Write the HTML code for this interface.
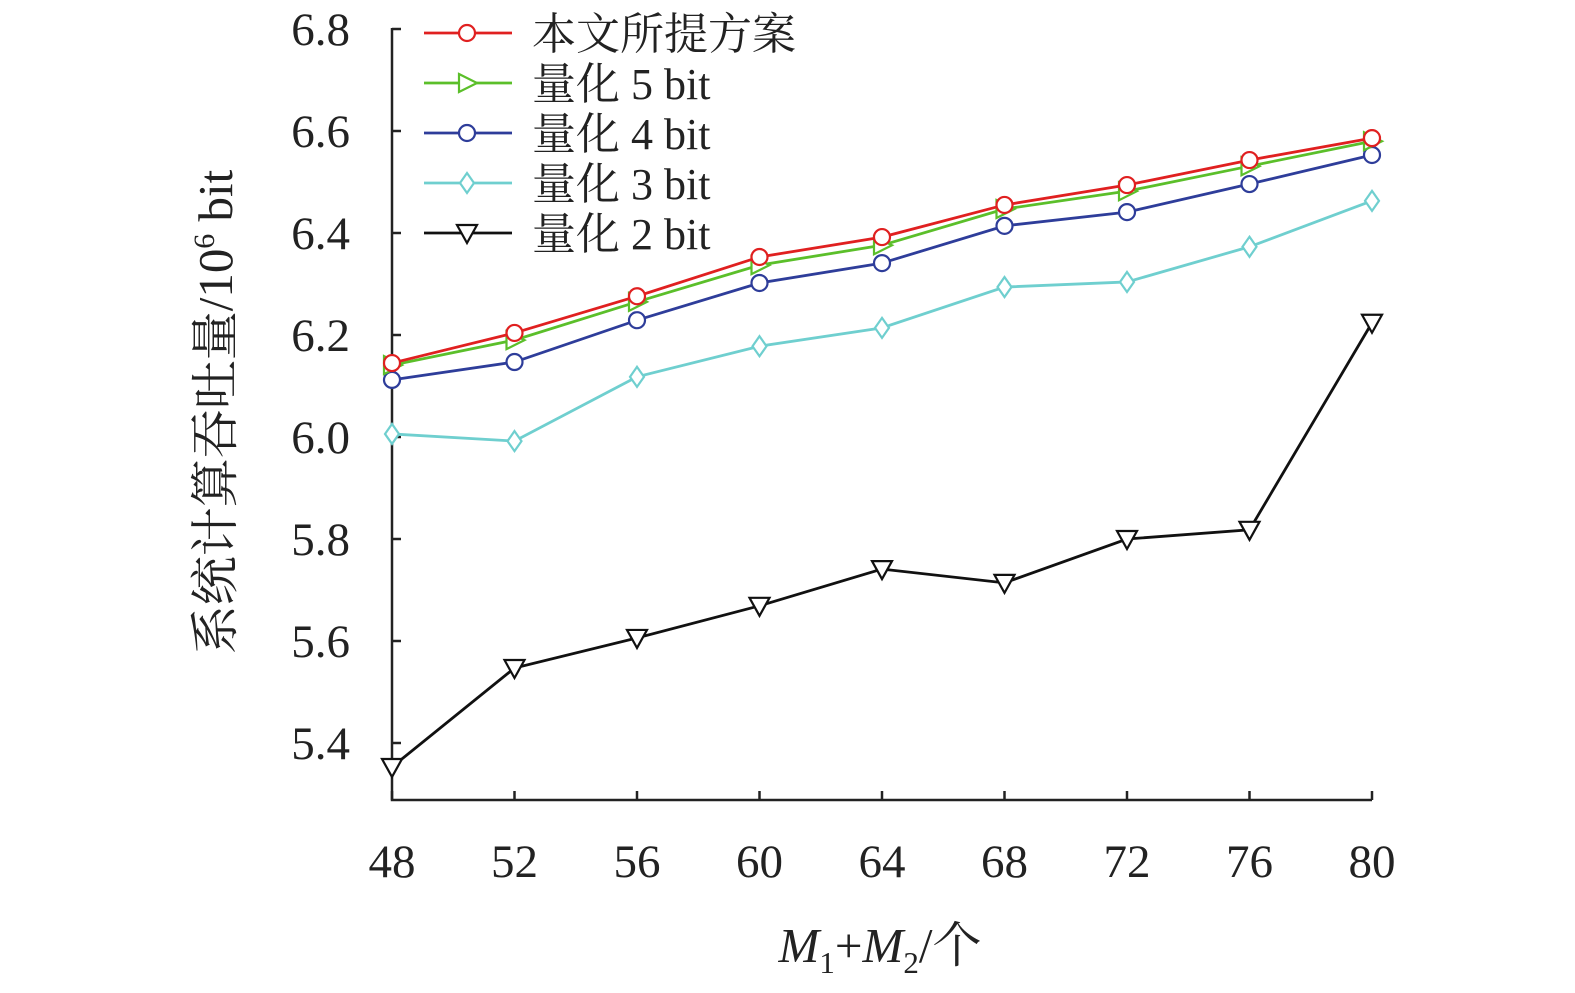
<!DOCTYPE html>
<html><head><meta charset="utf-8"><style>
html,body{margin:0;padding:0;background:#fff;overflow:hidden;width:1575px;height:993px;}
svg{display:block;font-family:"Liberation Serif","Noto Serif CJK SC",serif;}
</style></head><body>
<svg id="chart" width="1575" height="993" viewBox="0 0 1575 993" xmlns="http://www.w3.org/2000/svg">
<g id="axes"></g><g id="series"></g><g id="legend"></g>
<text transform="translate(232,412) rotate(-90)" text-anchor="middle" font-size="49" fill="#222">系统计算吞吐量/10<tspan font-size="30" dy="-18">6</tspan><tspan dy="18"> bit</tspan></text>
<text x="880" y="962" text-anchor="middle" font-size="49" fill="#222"><tspan font-style="italic">M</tspan><tspan font-size="31" dy="11">1</tspan><tspan dy="-11">+</tspan><tspan font-style="italic">M</tspan><tspan font-size="31" dy="11">2</tspan><tspan dy="-11">/个</tspan></text>
</svg>
<script>
const categories=[48,52,56,60,64,68,72,76,80];
const yTicks=[5.4,5.6,5.8,6.0,6.2,6.4,6.6,6.8];
const seriesNames=["本文所提方案","量化 5 bit","量化 4 bit","量化 3 bit","量化 2 bit"];
const proposed=[6.145,6.204,6.276,6.353,6.392,6.455,6.494,6.543,6.586];
const q5=[6.141,6.19,6.265,6.337,6.376,6.447,6.482,6.531,6.58];
const q4=[6.112,6.147,6.229,6.302,6.341,6.414,6.441,6.496,6.553];
const q3=[6.006,5.992,6.118,6.178,6.214,6.294,6.304,6.373,6.463];
const q2=[5.353,5.547,5.606,5.669,5.741,5.714,5.8,5.818,6.224];
const NS="http://www.w3.org/2000/svg";
const x=v=>392+(v-48)*(1372-392)/32;
const y=v=>437-(v-6.0)*510;
function mk(tag,attrs,parent){const e=document.createElementNS(NS,tag);for(const k in attrs)e.setAttribute(k,attrs[k]);parent.appendChild(e);return e;}
const axes=document.getElementById('axes');
let a=mk('path',{d:`M392,28 V800 H1372`,fill:'none',stroke:'#222','stroke-width':2.5},axes);


categories.forEach(c=>{
 const t=mk('line',{x1:x(c),x2:x(c),y1:800,y2:791,stroke:'#222','stroke-width':2.5},axes);
 
 
 const l=mk('text',{x:x(c),y:877,'text-anchor':'middle','font-size':47,fill:'#222'},axes);l.textContent=c;
 
 
});
yTicks.forEach(v=>{
 const t=mk('line',{x1:392,x2:401,y1:y(v),y2:y(v),stroke:'#222','stroke-width':2.5},axes);
 
 
 const l=mk('text',{x:350,y:y(v)+16,'text-anchor':'end','font-size':47,fill:'#222'},axes);l.textContent=v.toFixed(1);
 
 
});
function marker(g,type,cx,cy,col){
 let e;
 if(type==='circle')e=mk('circle',{cx,cy,r:8},g);
 else if(type==='right')e=mk('polygon',{points:`${cx-8},${cy-9} ${cx+10},${cy} ${cx-8},${cy+9}`},g);
 else if(type==='diamond')e=mk('polygon',{points:`${cx},${cy-10} ${cx+7},${cy} ${cx},${cy+10} ${cx-7},${cy}`},g);
 else e=mk('polygon',{points:`${cx-10},${cy-8} ${cx+10},${cy-8} ${cx},${cy+10}`},g);
 e.setAttribute('fill','#fff');e.setAttribute('stroke',col);e.setAttribute('stroke-width',2.2);
 return e;
}
const defs=[[proposed,'#e02020','circle','series-proposed'],[q5,'#5bbf2a','right','series-5bit'],[q4,'#2e3d9a','circle','series-4bit'],[q3,'#6fcfcf','diamond','series-3bit'],[q2,'#111','down','series-2bit']];
const sg=document.getElementById('series');
defs.slice().reverse().forEach(([vals,col,type,name])=>{
 const g=mk('g',{},sg);
 
 
 mk('polyline',{points:vals.map((v,i)=>x(categories[i])+','+y(v)).join(' '),fill:'none',stroke:col,'stroke-width':2.8},g);
 vals.forEach((v,i)=>{const m=marker(g,type,x(categories[i]),y(v),col);
  
  });
});
const lg=document.getElementById('legend');
defs.forEach(([vals,col,type,name],i)=>{
 const yy=33+i*50;
 const g=mk('g',{},lg);
 
 
 mk('line',{x1:424,x2:512,y1:yy,y2:yy,stroke:col,'stroke-width':2.8},g);
 marker(g,type,467,yy,col);
 const t=mk('text',{x:532,y:yy+16,'font-size':44,fill:'#222'},g);t.textContent=seriesNames[i];
});
</script>
</body></html>
